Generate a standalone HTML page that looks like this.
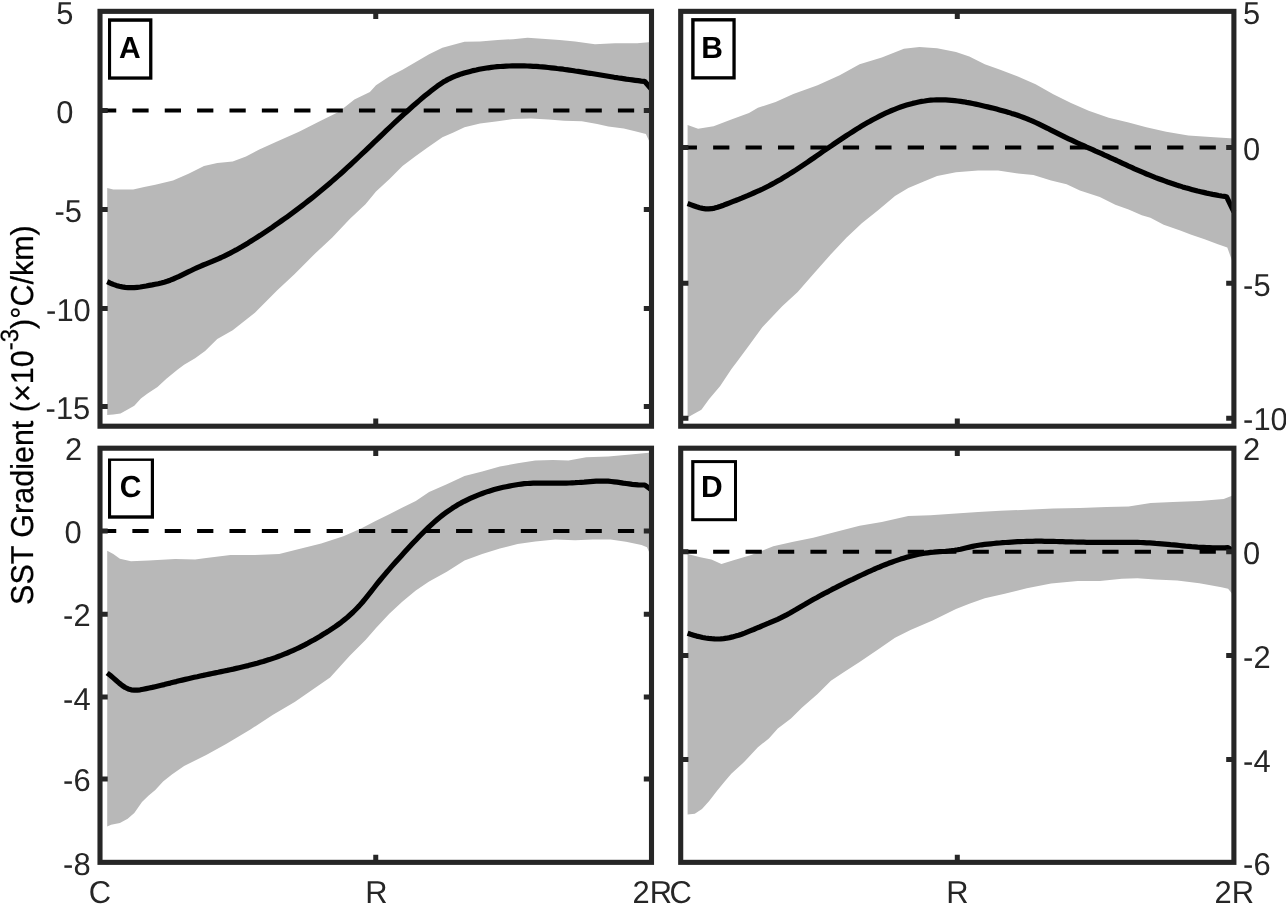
<!DOCTYPE html>
<html lang="en"><head><meta charset="utf-8"><title>SST Gradient</title>
<style>html,body{margin:0;padding:0;background:#fff;overflow:hidden}svg{display:block}text{font-family:"Liberation Sans",Arial,Helvetica,sans-serif;text-rendering:geometricPrecision}</style></head><body>
<svg width="1286" height="904" viewBox="0 0 1286 904">
<rect x="0" y="0" width="1286" height="904" fill="#fff"/>
<g id="panelA">
<polygon points="107.2,188.1 113.3,189.6 133.2,189.6 144.2,187.0 155.3,184.8 173.0,180.4 188.5,173.7 204.0,166.0 217.3,163.1 232.7,161.5 246.0,156.5 259.3,149.4 277.0,141.6 299.0,131.7 321.2,120.6 339.0,111.8 354.4,99.6 369.9,91.9 376.0,85.3 389.3,76.4 402.5,69.8 415.8,62.0 429.1,54.3 442.4,47.7 453.4,44.8 464.5,41.7 480.0,41.5 497.7,39.9 513.2,39.2 527.5,37.7 541.9,38.8 559.6,39.9 575.1,41.5 595.0,44.3 614.9,43.2 637.1,43.2 651.5,41.9 651.5,146.0 645.9,133.9 637.1,131.7 623.8,128.4 608.3,126.6 597.2,124.0 581.8,121.3 564.1,120.7 548.6,119.6 530.9,118.5 513.2,118.9 497.7,121.3 480.0,123.5 464.5,127.3 453.4,132.4 442.4,137.3 428.0,147.2 415.8,156.1 402.5,166.0 389.3,179.3 376.0,191.5 365.5,204.3 350.0,218.7 332.3,237.5 314.6,254.1 294.7,274.0 277.0,290.6 254.9,312.7 232.7,330.2 217.3,339.0 205.1,351.0 195.1,358.2 184.1,364.8 177.4,369.8 166.4,378.7 157.5,387.0 147.6,393.6 140.9,398.6 134.3,405.8 127.7,409.4 120.5,413.5 113.3,414.6 107.2,415.0" fill="#b8b8b8"/>
<polyline points="107.2,281.7 110.2,283.1 113.2,284.4 116.2,285.4 119.2,286.3 122.2,286.9 125.2,287.4 128.2,287.7 131.2,287.7 134.2,287.6 137.2,287.3 140.2,287.0 143.2,286.5 146.2,286.0 149.2,285.4 152.2,284.9 155.2,284.3 158.2,283.7 161.2,283.0 164.2,282.2 167.2,281.3 170.2,280.2 173.2,279.0 176.2,277.7 179.2,276.4 182.2,274.9 185.2,273.4 188.2,271.9 191.2,270.5 194.2,269.0 197.2,267.6 200.2,266.3 203.2,265.0 206.2,263.8 209.2,262.6 212.2,261.4 215.2,260.1 218.2,258.8 221.2,257.5 224.2,256.1 227.2,254.6 230.2,253.1 233.2,251.5 236.2,249.9 239.2,248.2 242.2,246.5 245.2,244.7 248.2,242.9 251.2,241.0 254.2,239.1 257.2,237.2 260.2,235.3 263.2,233.3 266.2,231.3 269.2,229.3 272.2,227.3 275.2,225.2 278.2,223.1 281.2,221.0 284.2,218.9 287.2,216.8 290.2,214.6 293.2,212.4 296.2,210.1 299.2,207.9 302.2,205.6 305.2,203.3 308.2,200.9 311.2,198.6 314.2,196.2 317.2,193.7 320.2,191.3 323.2,188.8 326.2,186.3 329.2,183.7 332.2,181.1 335.2,178.5 338.2,175.9 341.2,173.2 344.2,170.5 347.2,167.7 350.2,165.0 353.2,162.2 356.2,159.4 359.2,156.5 362.2,153.7 365.2,150.8 368.2,148.0 371.2,145.1 374.2,142.2 377.2,139.3 380.2,136.5 383.2,133.6 386.2,130.7 389.2,127.9 392.2,125.0 395.2,122.2 398.2,119.4 401.2,116.6 404.2,113.9 407.2,111.2 410.2,108.5 413.2,105.8 416.2,103.2 419.2,100.6 422.2,98.1 425.2,95.6 428.2,93.2 431.2,90.8 434.2,88.5 437.2,86.2 440.2,84.1 443.2,82.1 446.2,80.4 449.2,78.8 452.2,77.4 455.2,76.1 458.2,75.0 461.2,73.9 464.2,73.0 467.2,72.2 470.2,71.4 473.2,70.6 476.2,70.0 479.2,69.3 482.2,68.8 485.2,68.3 488.2,67.8 491.2,67.4 494.2,67.0 497.2,66.7 500.2,66.5 503.2,66.3 506.2,66.1 509.2,66.0 512.2,65.9 515.2,65.8 518.2,65.8 521.2,65.8 524.2,65.9 527.2,66.0 530.2,66.1 533.2,66.3 536.2,66.4 539.2,66.7 542.2,66.9 545.2,67.2 548.2,67.5 551.2,67.8 554.2,68.1 557.2,68.5 560.2,68.8 563.2,69.2 566.2,69.7 569.2,70.1 572.2,70.5 575.2,71.0 578.2,71.4 581.2,71.9 584.2,72.4 587.2,72.9 590.2,73.3 593.2,73.8 596.2,74.3 599.2,74.8 602.2,75.3 605.2,75.8 608.2,76.3 611.2,76.8 614.2,77.3 617.2,77.7 620.2,78.2 623.2,78.6 626.2,79.1 629.2,79.5 632.2,79.9 635.2,80.3 638.2,80.7 641.2,81.1 644.2,81.4 644.8,81.5 651.5,89.3" fill="none" stroke="#000" stroke-width="5.2" stroke-linejoin="round"/>
<line x1="100.0" y1="110.4" x2="651.5" y2="110.4" stroke="#000" stroke-width="4" stroke-dasharray="16.25 16.12"/>
<path d="M100.0,110.40h7.7M651.5,110.40h-7.7M100.0,209.40h7.7M651.5,209.40h-7.7M100.0,308.60h7.7M651.5,308.60h-7.7M100.0,406.60h7.7M651.5,406.60h-7.7M375.75,426.2v-7.7M375.75,11.35v7.7" stroke="#262626" stroke-width="5" fill="none"/>
<rect x="100.0" y="11.35" width="551.50" height="414.85" fill="none" stroke="#262626" stroke-width="5.1"/>
<rect x="108" y="18.3" width="44.40" height="61.40" fill="#000"/>
<rect x="111.1" y="21.8" width="38.00" height="54.60" fill="#fff"/>
<text transform="translate(119.1,57.8) scale(1,1.013)" font-size="30" font-weight="bold" fill="#000">A</text>
</g>
<g id="panelB">
<polygon points="687.6,125.1 698.1,128.8 713.6,126.2 731.3,119.6 749.0,112.9 757.9,107.8 775.6,101.9 793.3,94.1 817.6,85.3 839.7,75.3 859.6,64.2 881.8,57.6 903.9,48.8 919.4,47.0 937.1,48.3 956.0,52.1 969.3,56.5 984.8,64.3 1000.2,69.8 1017.9,76.5 1035.6,84.2 1053.3,94.2 1071.0,103.0 1088.7,110.8 1108.7,117.8 1128.6,122.5 1146.3,127.3 1166.2,131.8 1188.3,135.5 1210.4,136.9 1233.9,138.6 1233.9,265.8 1227.3,247.5 1217.9,244.2 1204.6,239.2 1191.3,234.8 1180.2,230.4 1163.7,224.8 1150.4,217.7 1141.8,215.3 1128.6,209.6 1115.3,204.8 1099.8,197.0 1079.9,190.4 1066.6,184.2 1051.1,180.4 1033.4,174.9 1017.9,173.4 998.0,170.5 978.1,170.5 956.0,172.2 937.1,176.0 923.8,181.5 908.3,188.1 895.0,195.9 878.4,210.0 861.8,223.3 846.4,237.7 830.9,254.2 813.2,274.2 797.7,291.9 782.2,306.2 762.3,327.3 749.0,345.5 737.9,360.5 731.3,369.3 720.2,385.9 709.2,398.9 701.4,409.7 693.7,414.1 687.6,417.4" fill="#b8b8b8"/>
<polyline points="687.6,203.5 690.6,204.6 693.6,205.7 696.6,206.8 699.6,207.7 702.6,208.4 705.6,208.8 708.6,208.9 711.6,208.7 714.6,208.1 717.6,207.3 720.6,206.3 723.6,205.2 726.6,204.0 729.6,202.8 732.6,201.6 735.6,200.5 738.6,199.3 741.6,198.1 744.6,196.8 747.6,195.6 750.6,194.3 753.6,193.0 756.6,191.7 759.6,190.4 762.6,189.0 765.6,187.5 768.6,186.0 771.6,184.4 774.6,182.8 777.6,181.1 780.6,179.4 783.6,177.6 786.6,175.8 789.6,173.9 792.6,172.0 795.6,170.1 798.6,168.1 801.6,166.1 804.6,164.1 807.6,162.1 810.6,160.0 813.6,158.0 816.6,155.9 819.6,153.8 822.6,151.7 825.6,149.7 828.6,147.6 831.6,145.6 834.6,143.5 837.6,141.5 840.6,139.5 843.6,137.5 846.6,135.5 849.6,133.6 852.6,131.7 855.6,129.8 858.6,127.9 861.6,126.1 864.6,124.3 867.6,122.6 870.6,120.9 873.6,119.3 876.6,117.7 879.6,116.1 882.6,114.6 885.6,113.2 888.6,111.8 891.6,110.5 894.6,109.3 897.6,108.1 900.6,107.0 903.6,106.0 906.6,105.1 909.6,104.2 912.6,103.4 915.6,102.7 918.6,102.0 921.6,101.4 924.6,101.0 927.6,100.5 930.6,100.2 933.6,100.0 936.6,99.8 939.6,99.8 942.6,99.8 945.6,99.9 948.6,100.1 951.6,100.3 954.6,100.6 957.6,101.0 960.6,101.4 963.6,101.8 966.6,102.4 969.6,102.9 972.6,103.5 975.6,104.1 978.6,104.8 981.6,105.5 984.6,106.2 987.6,106.9 990.6,107.6 993.6,108.3 996.6,109.1 999.6,109.9 1002.6,110.7 1005.6,111.5 1008.6,112.4 1011.6,113.4 1014.6,114.3 1017.6,115.3 1020.6,116.4 1023.6,117.5 1026.6,118.6 1029.6,119.9 1032.6,121.1 1035.6,122.5 1038.6,123.9 1041.6,125.3 1044.6,126.8 1047.6,128.3 1050.6,129.9 1053.6,131.4 1056.6,132.9 1059.6,134.4 1062.6,135.9 1065.6,137.4 1068.6,138.8 1071.6,140.2 1074.6,141.6 1077.6,143.0 1080.6,144.4 1083.6,145.7 1086.6,147.1 1089.6,148.4 1092.6,149.7 1095.6,151.1 1098.6,152.4 1101.6,153.7 1104.6,155.1 1107.6,156.4 1110.6,157.8 1113.6,159.2 1116.6,160.5 1119.6,161.9 1122.6,163.3 1125.6,164.7 1128.6,166.1 1131.6,167.4 1134.6,168.8 1137.6,170.1 1140.6,171.4 1143.6,172.7 1146.6,174.0 1149.6,175.2 1152.6,176.4 1155.6,177.6 1158.6,178.7 1161.6,179.8 1164.6,180.9 1167.6,182.0 1170.6,183.0 1173.6,184.0 1176.6,185.0 1179.6,185.9 1182.6,186.9 1185.6,187.8 1188.6,188.6 1191.6,189.4 1194.6,190.2 1197.6,191.0 1200.6,191.7 1203.6,192.4 1206.6,193.1 1209.6,193.7 1212.6,194.4 1215.6,194.9 1218.6,195.5 1221.6,196.0 1224.6,196.4 1226.5,196.7 1233.9,211.8" fill="none" stroke="#000" stroke-width="5.2" stroke-linejoin="round"/>
<line x1="680.7" y1="147.45" x2="1233.9" y2="147.45" stroke="#000" stroke-width="4" stroke-dasharray="16.25 16.18"/>
<path d="M680.7,147.45h7.7M1233.9,147.45h-7.7M680.7,283.20h7.7M1233.9,283.20h-7.7M680.7,418.30h7.7M1233.9,418.30h-7.7M957.30,426.2v-7.7M957.30,11.35v7.7" stroke="#262626" stroke-width="5" fill="none"/>
<rect x="680.7" y="11.35" width="553.20" height="414.85" fill="none" stroke="#262626" stroke-width="5.1"/>
<rect x="691.2" y="18.1" width="44.50" height="61.40" fill="#000"/>
<rect x="694.6" y="21.5" width="37.80" height="54.70" fill="#fff"/>
<text transform="translate(701.2,57.8) scale(1,1.013)" font-size="30" font-weight="bold" fill="#000">B</text>
</g>
<g id="panelC">
<polygon points="107.2,550.7 113.3,554.0 119.9,558.8 131.0,561.3 148.7,560.6 175.2,559.1 195.1,559.5 206.2,558.0 230.5,555.1 254.9,555.1 279.2,554.0 299.1,549.1 321.2,543.4 343.4,536.3 361.1,528.5 376.0,520.8 389.3,514.2 402.5,507.5 415.8,500.9 429.1,492.0 446.8,484.3 464.5,476.1 482.2,471.5 499.9,466.6 517.6,463.3 535.3,460.4 553.0,460.0 568.5,460.6 586.2,457.3 608.3,456.6 630.4,454.4 651.5,452.5 651.5,557.4 647.0,547.3 641.5,545.1 626.0,541.8 610.5,539.6 592.8,539.6 575.1,540.3 555.2,539.6 535.3,541.4 517.6,544.0 499.9,548.5 482.2,554.0 464.5,560.6 446.8,571.7 429.1,581.6 415.8,590.5 402.5,601.5 389.3,613.7 376.0,628.1 365.5,639.9 350.0,655.4 330.1,677.5 312.4,689.7 294.7,701.9 272.6,715.1 250.4,729.5 226.1,743.9 206.2,755.0 184.1,766.0 171.9,774.6 163.1,781.6 155.3,789.9 148.7,795.4 142.0,802.1 134.3,813.1 127.7,818.7 119.9,822.9 111.1,824.8 107.2,826.6" fill="#b8b8b8"/>
<polyline points="107.2,673.0 110.2,675.3 113.2,677.9 116.2,680.5 119.2,683.1 122.2,685.5 125.2,687.5 128.2,688.9 131.2,689.8 134.2,690.1 137.2,690.1 140.2,689.8 143.2,689.2 146.2,688.6 149.2,688.0 152.2,687.4 155.2,686.7 158.2,686.0 161.2,685.3 164.2,684.6 167.2,683.8 170.2,683.1 173.2,682.3 176.2,681.6 179.2,680.8 182.2,680.1 185.2,679.4 188.2,678.7 191.2,678.0 194.2,677.3 197.2,676.7 200.2,676.0 203.2,675.4 206.2,674.7 209.2,674.1 212.2,673.5 215.2,672.9 218.2,672.3 221.2,671.6 224.2,671.0 227.2,670.4 230.2,669.7 233.2,669.1 236.2,668.4 239.2,667.7 242.2,667.0 245.2,666.3 248.2,665.6 251.2,664.8 254.2,664.0 257.2,663.2 260.2,662.3 263.2,661.5 266.2,660.5 269.2,659.6 272.2,658.6 275.2,657.6 278.2,656.5 281.2,655.4 284.2,654.2 287.2,653.0 290.2,651.7 293.2,650.4 296.2,649.0 299.2,647.6 302.2,646.1 305.2,644.6 308.2,643.0 311.2,641.3 314.2,639.7 317.2,637.9 320.2,636.2 323.2,634.3 326.2,632.5 329.2,630.6 332.2,628.6 335.2,626.6 338.2,624.5 341.2,622.3 344.2,619.9 347.2,617.5 350.2,614.8 353.2,612.0 356.2,609.0 359.2,605.9 362.2,602.5 365.2,598.8 368.2,595.1 371.2,591.3 374.2,587.5 377.2,583.7 380.2,580.0 383.2,576.4 386.2,572.8 389.2,569.4 392.2,565.9 395.2,562.5 398.2,559.2 401.2,555.9 404.2,552.6 407.2,549.3 410.2,546.0 413.2,542.8 416.2,539.7 419.2,536.5 422.2,533.5 425.2,530.5 428.2,527.6 431.2,524.8 434.2,522.1 437.2,519.5 440.2,517.0 443.2,514.6 446.2,512.4 449.2,510.3 452.2,508.3 455.2,506.4 458.2,504.6 461.2,502.9 464.2,501.3 467.2,499.8 470.2,498.4 473.2,497.1 476.2,495.8 479.2,494.6 482.2,493.5 485.2,492.4 488.2,491.4 491.2,490.5 494.2,489.6 497.2,488.8 500.2,488.0 503.2,487.3 506.2,486.7 509.2,486.1 512.2,485.5 515.2,485.0 518.2,484.5 521.2,484.1 524.2,483.7 527.2,483.5 530.2,483.3 533.2,483.2 536.2,483.1 539.2,483.1 542.2,483.2 545.2,483.2 548.2,483.2 551.2,483.2 554.2,483.2 557.2,483.2 560.2,483.2 563.2,483.1 566.2,483.1 569.2,483.0 572.2,482.8 575.2,482.7 578.2,482.5 581.2,482.3 584.2,482.1 587.2,481.8 590.2,481.6 593.2,481.4 596.2,481.2 599.2,481.1 602.2,481.0 605.2,481.1 608.2,481.2 611.2,481.5 614.2,481.8 617.2,482.2 620.2,482.6 623.2,483.1 626.2,483.5 629.2,483.9 632.2,484.3 635.2,484.6 638.2,484.9 641.2,485.0 644.2,485.0 644.8,485.0 651.5,489.9" fill="none" stroke="#000" stroke-width="5.2" stroke-linejoin="round"/>
<line x1="100.0" y1="530.9" x2="651.5" y2="530.9" stroke="#000" stroke-width="4" stroke-dasharray="16.25 16.12"/>
<path d="M100.0,530.90h7.7M651.5,530.90h-7.7M100.0,614.25h7.7M651.5,614.25h-7.7M100.0,697.10h7.7M651.5,697.10h-7.7M100.0,778.90h7.7M651.5,778.90h-7.7M375.75,862.35v-7.7M375.75,448.2v7.7" stroke="#262626" stroke-width="5" fill="none"/>
<rect x="100.0" y="448.2" width="551.50" height="414.15" fill="none" stroke="#262626" stroke-width="5.1"/>
<rect x="108" y="458.5" width="46.00" height="60.20" fill="#000"/>
<rect x="111.1" y="460.9" width="39.70" height="54.40" fill="#fff"/>
<text transform="translate(119.7,496.9) scale(1,1.013)" font-size="30" font-weight="bold" fill="#000">C</text>
</g>
<g id="panelD">
<polygon points="687.6,554.0 700.3,557.3 711.4,559.5 721.4,563.9 733.5,560.2 751.2,555.1 773.3,546.2 793.3,541.8 813.2,537.8 835.3,531.9 859.6,525.7 881.8,521.9 908.3,515.9 930.4,515.3 956.0,513.5 978.1,512.0 1000.2,510.8 1026.8,509.7 1053.3,508.6 1079.9,508.0 1106.4,507.1 1128.6,506.4 1150.7,503.1 1172.8,502.0 1199.4,500.9 1223.7,499.1 1233.9,494.9 1233.9,596.0 1228.1,588.7 1221.5,587.2 1199.4,583.2 1177.2,580.5 1155.1,579.4 1137.4,578.3 1121.9,578.8 1099.8,581.0 1077.7,581.0 1051.1,583.4 1026.8,588.3 1004.7,593.8 984.8,598.2 969.3,603.8 956.0,609.0 932.6,620.4 910.5,630.0 895.0,637.7 877.3,649.9 859.6,662.0 844.1,672.0 830.9,680.8 817.6,694.1 802.1,707.4 791.0,718.5 777.8,728.4 768.9,738.4 757.9,747.2 744.6,761.6 731.3,773.8 724.7,781.6 716.9,791.0 709.2,801.0 702.0,809.0 694.8,813.7 687.6,814.6" fill="#b8b8b8"/>
<polyline points="687.6,633.3 690.6,634.3 693.6,635.2 696.6,636.1 699.6,636.8 702.6,637.5 705.6,638.0 708.6,638.4 711.6,638.7 714.6,638.9 717.6,639.0 720.6,638.9 723.6,638.6 726.6,638.2 729.6,637.6 732.6,636.9 735.6,636.1 738.6,635.2 741.6,634.2 744.6,633.1 747.6,631.9 750.6,630.7 753.6,629.5 756.6,628.2 759.6,627.0 762.6,625.7 765.6,624.4 768.6,623.2 771.6,621.9 774.6,620.6 777.6,619.3 780.6,617.9 783.6,616.4 786.6,614.9 789.6,613.3 792.6,611.5 795.6,609.8 798.6,608.0 801.6,606.2 804.6,604.5 807.6,602.7 810.6,601.0 813.6,599.3 816.6,597.7 819.6,596.0 822.6,594.4 825.6,592.8 828.6,591.3 831.6,589.7 834.6,588.2 837.6,586.6 840.6,585.1 843.6,583.7 846.6,582.2 849.6,580.7 852.6,579.3 855.6,577.8 858.6,576.4 861.6,575.0 864.6,573.6 867.6,572.2 870.6,570.9 873.6,569.5 876.6,568.2 879.6,567.0 882.6,565.7 885.6,564.5 888.6,563.3 891.6,562.2 894.6,561.1 897.6,560.1 900.6,559.1 903.6,558.2 906.6,557.3 909.6,556.4 912.6,555.7 915.6,555.0 918.6,554.3 921.6,553.7 924.6,553.2 927.6,552.8 930.6,552.4 933.6,552.2 936.6,551.9 939.6,551.7 942.6,551.5 945.6,551.3 948.6,551.0 951.6,550.7 954.6,550.3 957.6,549.8 960.6,549.2 963.6,548.5 966.6,547.8 969.6,547.1 972.6,546.4 975.6,545.8 978.6,545.3 981.6,544.8 984.6,544.4 987.6,544.1 990.6,543.8 993.6,543.5 996.6,543.2 999.6,543.0 1002.6,542.7 1005.6,542.5 1008.6,542.3 1011.6,542.1 1014.6,541.9 1017.6,541.7 1020.6,541.6 1023.6,541.5 1026.6,541.4 1029.6,541.3 1032.6,541.3 1035.6,541.2 1038.6,541.2 1041.6,541.2 1044.6,541.3 1047.6,541.3 1050.6,541.4 1053.6,541.4 1056.6,541.5 1059.6,541.6 1062.6,541.7 1065.6,541.8 1068.6,541.9 1071.6,541.9 1074.6,542.0 1077.6,542.1 1080.6,542.2 1083.6,542.2 1086.6,542.3 1089.6,542.4 1092.6,542.4 1095.6,542.4 1098.6,542.4 1101.6,542.4 1104.6,542.4 1107.6,542.4 1110.6,542.3 1113.6,542.3 1116.6,542.3 1119.6,542.3 1122.6,542.3 1125.6,542.3 1128.6,542.3 1131.6,542.3 1134.6,542.3 1137.6,542.4 1140.6,542.5 1143.6,542.6 1146.6,542.8 1149.6,542.9 1152.6,543.1 1155.6,543.4 1158.6,543.6 1161.6,543.8 1164.6,544.1 1167.6,544.4 1170.6,544.7 1173.6,544.9 1176.6,545.2 1179.6,545.5 1182.6,545.8 1185.6,546.1 1188.6,546.3 1191.6,546.6 1194.6,546.8 1197.6,547.1 1200.6,547.3 1203.6,547.4 1206.6,547.6 1209.6,547.7 1212.6,547.8 1215.6,547.9 1218.6,547.9 1221.6,547.8 1224.6,547.8 1227.6,547.7 1228.1,547.6 1233.9,551.2" fill="none" stroke="#000" stroke-width="5.2" stroke-linejoin="round"/>
<line x1="680.7" y1="551.8" x2="1233.9" y2="551.8" stroke="#000" stroke-width="4" stroke-dasharray="16.25 16.18"/>
<path d="M680.7,551.80h7.7M1233.9,551.80h-7.7M680.7,655.45h7.7M1233.9,655.45h-7.7M680.7,759.40h7.7M1233.9,759.40h-7.7M957.30,862.35v-7.7M957.30,448.2v7.7" stroke="#262626" stroke-width="5" fill="none"/>
<rect x="680.7" y="448.2" width="553.20" height="414.15" fill="none" stroke="#262626" stroke-width="5.1"/>
<rect x="691.2" y="460.1" width="45.80" height="61.10" fill="#000"/>
<rect x="694.4" y="463.1" width="39.60" height="55.10" fill="#fff"/>
<text transform="translate(701.1,496.9) scale(1,1.013)" font-size="30" font-weight="bold" fill="#000">D</text>
</g>
<g font-size="30.9" fill="#262626">
<text transform="translate(56.30,23.65) scale(1,1.025)" text-anchor="start">5</text>
<text transform="translate(56.20,122.80) scale(1,1.025)" text-anchor="start">0</text>
<text transform="translate(54.40,222.00) scale(1,1.025)" text-anchor="start">-5</text>
<text transform="translate(46.10,320.80) scale(1,1.025)" text-anchor="start">-10</text>
<text transform="translate(45.60,418.50) scale(1,1.025)" text-anchor="start">-15</text>
<text transform="translate(64.90,459.90) scale(1,1.025)" text-anchor="start">2</text>
<text transform="translate(64.60,543.40) scale(1,1.025)" text-anchor="start">0</text>
<text transform="translate(63.10,626.20) scale(1,1.025)" text-anchor="start">-2</text>
<text transform="translate(63.10,709.50) scale(1,1.025)" text-anchor="start">-4</text>
<text transform="translate(63.10,791.00) scale(1,1.025)" text-anchor="start">-6</text>
<text transform="translate(63.10,874.70) scale(1,1.025)" text-anchor="start">-8</text>
<text transform="translate(1243.10,23.60) scale(1,1.025)" text-anchor="start">5</text>
<text transform="translate(1243.10,159.70) scale(1,1.025)" text-anchor="start">0</text>
<text transform="translate(1243.10,295.60) scale(1,1.025)" text-anchor="start">-5</text>
<text transform="translate(1243.10,430.40) scale(1,1.025)" text-anchor="start">-10</text>
<text transform="translate(1243.10,460.00) scale(1,1.025)" text-anchor="start">2</text>
<text transform="translate(1243.10,564.40) scale(1,1.025)" text-anchor="start">0</text>
<text transform="translate(1243.10,667.70) scale(1,1.025)" text-anchor="start">-2</text>
<text transform="translate(1243.10,771.60) scale(1,1.025)" text-anchor="start">-4</text>
<text transform="translate(1243.10,874.70) scale(1,1.025)" text-anchor="start">-6</text>
<text transform="translate(100.00,902.80) scale(1,1.025)" text-anchor="middle">C</text>
<text transform="translate(376.30,902.80) scale(1,1.025)" text-anchor="middle">R</text>
<text transform="translate(652.20,902.80) scale(1,1.025)" text-anchor="middle">2R</text>
<text transform="translate(680.60,902.80) scale(1,1.025)" text-anchor="middle">C</text>
<text transform="translate(957.30,902.80) scale(1,1.025)" text-anchor="middle">R</text>
<text transform="translate(1234.30,902.80) scale(1,1.025)" text-anchor="middle">2R</text>
</g>
<text transform="translate(33.1,604.9) rotate(-90) scale(1,1.037)" font-size="30.5" fill="#000" stroke="#000" stroke-width="0.25">SST Gradient (×10<tspan dy="-14.5" font-size="24">-3</tspan><tspan dy="14.5">)°C/km)</tspan></text>
</svg>
</body></html>
